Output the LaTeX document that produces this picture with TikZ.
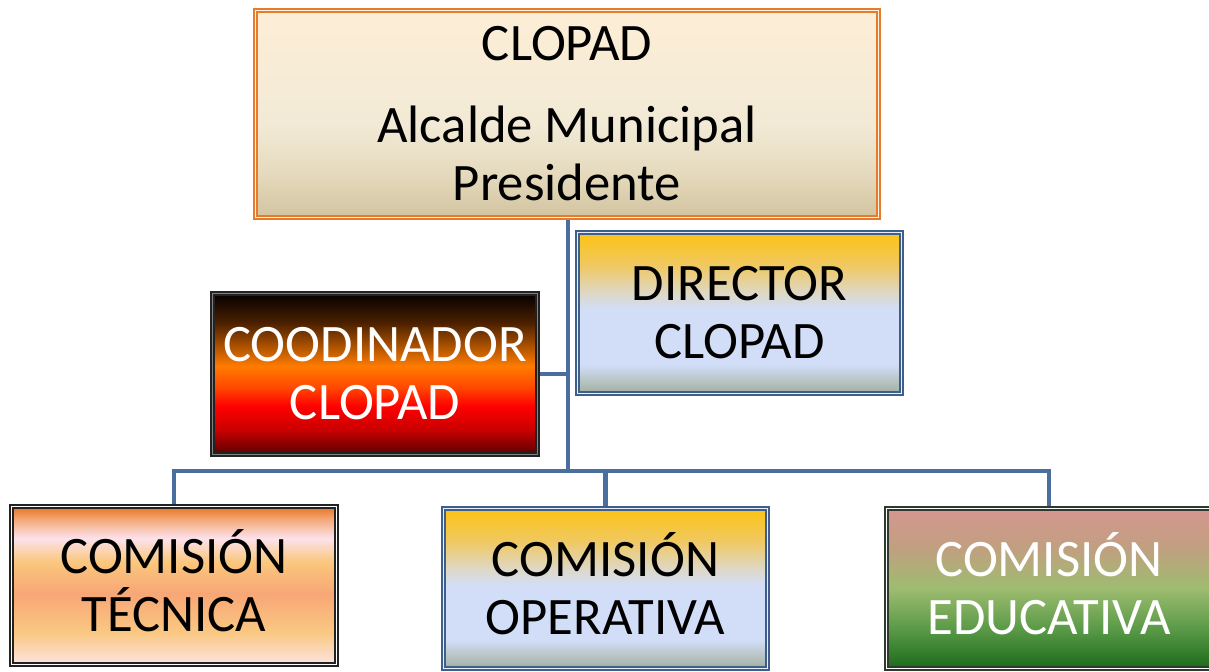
\documentclass[tikz,border=0pt]{standalone}
\usepackage{fontspec}
\setmainfont{Carlito}
\pgfdeclarelayer{bg}
\pgfsetlayers{bg,main}
% top box
\definecolor{tA}{HTML}{D3C4A0}
\definecolor{tB}{HTML}{E4D9BC}
\definecolor{tC}{HTML}{F2EAD6}
\definecolor{tD}{HTML}{FDEED6}
% director / operativa
\definecolor{dA}{HTML}{A0B0A0}
\definecolor{dB}{HTML}{B8C4C4}
\definecolor{dC}{HTML}{D2DEF8}
\definecolor{dD}{HTML}{DDD8C8}
\definecolor{dE}{HTML}{F0C860}
\definecolor{dF}{HTML}{FCC314}
% coordinador
\definecolor{cA}{HTML}{5A0000}
\definecolor{cB}{HTML}{C80000}
\definecolor{cC}{HTML}{FF0000}
\definecolor{cD}{HTML}{FF4A00}
\definecolor{cE}{HTML}{FF7B00}
\definecolor{cF}{HTML}{4A2000}
\definecolor{cG}{HTML}{050000}
% tecnica
\definecolor{eA}{HTML}{FCE4E2}
\definecolor{eB}{HTML}{FAC882}
\definecolor{eC}{HTML}{F8A676}
\definecolor{eD}{HTML}{FAC77C}
\definecolor{eE}{HTML}{FCE2EC}
\definecolor{eF}{HTML}{F4A878}
\definecolor{eG}{HTML}{E8731E}
% educativa
\definecolor{gA}{HTML}{1B6B1B}
\definecolor{gB}{HTML}{5A9A48}
\definecolor{gC}{HTML}{9EBC70}
\definecolor{gD}{HTML}{C0A080}
\definecolor{gE}{HTML}{D69690}
% borders and lines
\definecolor{orb}{HTML}{E87B2A}
\definecolor{blb}{HTML}{3E5F8C}
\definecolor{dkb}{HTML}{222222}
\definecolor{grb}{HTML}{2F3A2F}
\definecolor{cn}{HTML}{4A6F9F}
\pgfdeclareverticalshading{topsh}{100bp}{color(0bp)=(tA); color(25bp)=(tA); color(35bp)=(tB); color(47.5bp)=(tC); color(75bp)=(tD); color(100bp)=(tD)}
\pgfdeclareverticalshading{dirsh}{100bp}{color(0bp)=(dA); color(25bp)=(dA); color(29bp)=(dB); color(34bp)=(dC); color(51bp)=(dC); color(56bp)=(dD); color(65bp)=(dE); color(75bp)=(dF); color(100bp)=(dF)}
\pgfdeclareverticalshading{coosh}{100bp}{color(0bp)=(cA); color(25bp)=(cA); color(32.5bp)=(cB); color(40bp)=(cC); color(46bp)=(cD); color(52.5bp)=(cE); color(66bp)=(cF); color(75bp)=(cG); color(100bp)=(cG)}
\pgfdeclareverticalshading{tecsh}{100bp}{color(0bp)=(eA); color(25bp)=(eA); color(35bp)=(eB); color(47.5bp)=(eC); color(57.5bp)=(eD); color(65bp)=(eE); color(71bp)=(eF); color(75bp)=(eG); color(100bp)=(eG)}
\pgfdeclareverticalshading{edush}{100bp}{color(0bp)=(gA); color(25bp)=(gA); color(37.5bp)=(gB); color(50bp)=(gC); color(62.5bp)=(gD); color(75bp)=(gE); color(100bp)=(gE)}
\newcommand{\capln}[1]{\raisebox{0pt}[0.644em][0pt]{#1}}
\begin{document}
\begin{tikzpicture}[x=0.75pt,y=-0.75pt,
  orgbox/.style={rectangle, inner sep=0pt, align=center,
    font=\fontsize{39.5}{43.5}\selectfont, line width=1.4pt, double distance=1pt},
  conn/.style={draw=cn, line width=3.6pt}]
\useasboundingbox (0,0) rectangle (1209,671);
\node[orgbox, shading=topsh, draw=orb, double=tD!60!white, minimum width=467pt, minimum height=155pt]
  (top) at (567,114) {\capln{CLOPAD}\\[18pt]Alcalde Municipal\\Presidente};
\node[orgbox, shading=dirsh, draw=blb, double=dC!50!white, minimum width=242.75pt, minimum height=120.5pt]
  (dir) at (739.5,313) {\capln{DIRECTOR}\\CLOPAD};
\node[orgbox, shading=coosh, draw=dkb, double=gray, text=white, minimum width=243.5pt, minimum height=120.5pt]
  (coo) at (375,374) {\capln{COODINADOR}\\CLOPAD};
\node[orgbox, shading=tecsh, draw=dkb, double=white, minimum width=243.5pt, minimum height=118.25pt]
  (tec) at (174,585.5) {\capln{COMISIÓN}\\TÉCNICA};
\node[orgbox, shading=dirsh, draw=blb, double=dC!50!white, minimum width=242.75pt, minimum height=119.75pt]
  (ope) at (605.5,588.5) {\capln{COMISIÓN}\\OPERATIVA};
\node[orgbox, shading=edush, draw=grb, double=white, text=white, minimum width=243.5pt, minimum height=119.75pt]
  (edu) at (1049,588.5) {\capln{COMISIÓN}\\EDUCATIVA};
\coordinate (bus) at (568,471);
\begin{pgfonlayer}{bg}
\fill[white] (0,0) rectangle (1209,671);
\draw[conn] (top.south -| bus) -- (bus);
\draw[conn] (coo.east) -- (coo.east -| bus);
\draw[conn] (tec.north) |- (bus) -| (edu.north);
\draw[conn] (ope.north) -- (ope.north |- bus);
\end{pgfonlayer}
\end{tikzpicture}
\end{document}
